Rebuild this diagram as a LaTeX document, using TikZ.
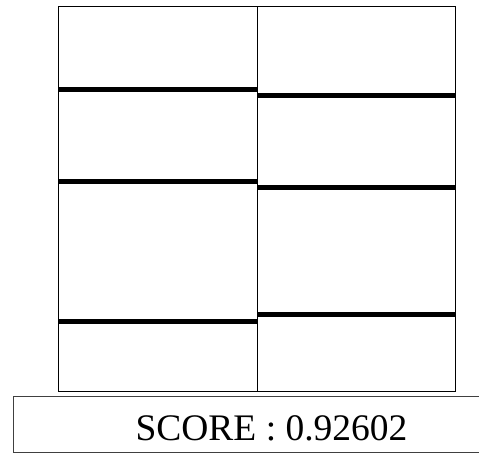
\documentclass[tikz,border=0pt]{standalone}
\usepackage{fontspec}
\setmainfont{Liberation Serif}
\usepackage{tikz}
\usetikzlibrary{positioning}

\begin{document}
\begin{tikzpicture}[x=1pt, y=-1pt,
  frame/.style={draw=black, line width=0.9pt},
  shelf/.style={draw=black, line width=5pt},
  scorebox/.style={draw=black!75, line width=0.9pt},
  scoretext/.style={font=\fontsize{37.5}{45}\selectfont, inner sep=0pt, anchor=base},
]
\useasboundingbox (0,0) rectangle (479,453);

% grid of two columns
\draw[frame] (58,6) rectangle (455,391);
\draw[frame] (257,6) -- (257,391);

% left column
\draw[shelf] (58,89) -- (257,89);
\draw[shelf] (58,181.5) -- (257,181.5);
\draw[shelf] (58,321) -- (257,321);

% right column
\draw[shelf] (257,95) -- (455,95);
\draw[shelf] (257,187) -- (455,187);
\draw[shelf] (257,314) -- (455,314);

% score
\draw[scorebox] (13,396.5) rectangle (520,452);
\node[scoretext] (score) at (271.5,440) {SCORE : 0.92602};
\end{tikzpicture}
\end{document}
